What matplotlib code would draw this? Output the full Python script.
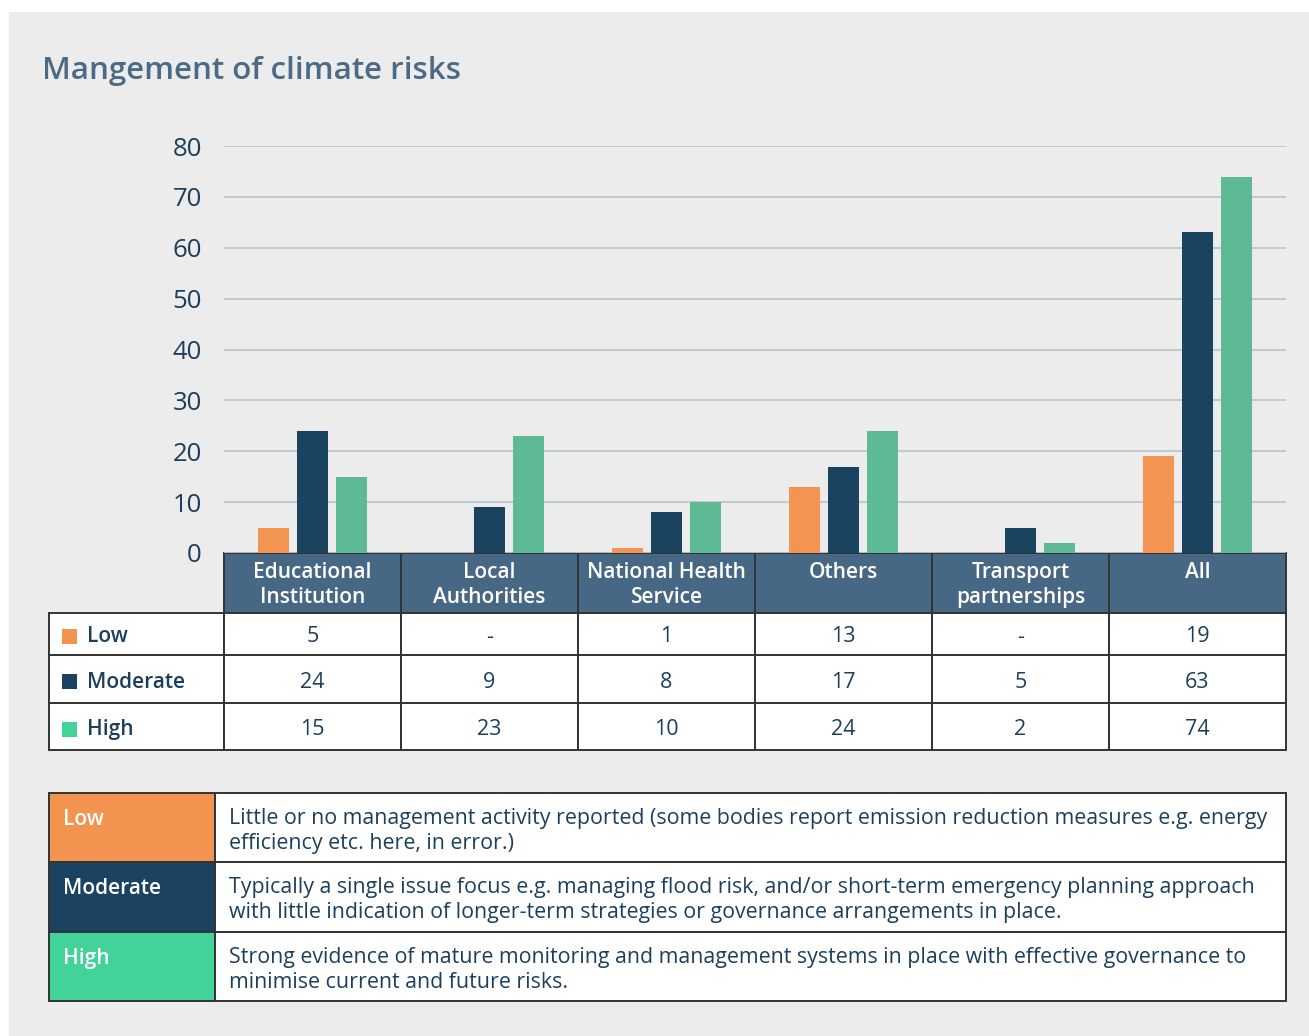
import numpy as np
import matplotlib
matplotlib.use("Agg")
import matplotlib.pyplot as plt
from matplotlib.patches import Rectangle

plt.rcParams['font.family'] = ['Open Sans', 'Noto Sans', 'DejaVu Sans']

# ---- data -------------------------------------------------------------
categories = ["Educational\nInstitution", "Local\nAuthorities", "National Health\nService",
              "Others", "Transport\npartnerships", "All"]
series_names = ["Low", "Moderate", "High"]
low = [5, np.nan, 1, 13, np.nan, 19]
moderate = [24, 9, 8, 17, 5, 63]
high = [15, 23, 10, 24, 2, 74]
y_ticks = [0, 10, 20, 30, 40, 50, 60, 70, 80]
descriptions = [
    "Little or no management activity reported (some bodies report emission reduction measures e.g. energy\nefficiency etc. here, in error.)",
    "Typically a single issue focus e.g. managing flood risk, and/or short-term emergency planning approach\nwith little indication of longer-term strategies or governance arrangements in place.",
    "Strong evidence of mature monitoring and management systems in place with effective governance to\nminimise current and future risks.",
]

# ---- styling ----------------------------------------------------------
bar_colors = ["#f39452", "#19435f", "#5eba94"]
key_colors = ["#f2944f", "#1b4361", "#41d39a"]
navy = "#1d3f5c"
header_fill = "#476885"
panel = "#ececec"
border = "#333333"

W, H = 1309, 1036
fig = plt.figure(figsize=(W / 100, H / 100), dpi=100, facecolor="white")

# overlay in pixel units (y downward) for panel, title and tables
ov = fig.add_axes([0, 0, 1, 1], zorder=0)
ov.set_xlim(0, W)
ov.set_ylim(H, 0)
ov.axis("off")
ov.add_patch(Rectangle((9, 12), W - 9, H - 12, facecolor=panel, edgecolor="none"))
ov.text(42, 71, "Mangement of climate risks", fontsize=22.5, color="#4a6a85",
        fontweight="semibold", va="center", ha="left")

# ---- bar chart --------------------------------------------------------
x0, x1, y0, y1 = 224, 1286, 553, 146
ax = fig.add_axes([x0 / W, 1 - y0 / H, (x1 - x0) / W, (y0 - y1) / H], zorder=2)
ax.set_facecolor("none")
n = len(categories)
x = np.arange(n)
bw, step = 0.175, 0.22
for i, vals in enumerate([low, moderate, high]):
    v = np.nan_to_num(np.array(vals, dtype=float))
    ax.bar(x + (i - 1) * step, v, width=bw, color=bar_colors[i], zorder=3)
ax.set_xlim(-0.5, n - 0.5)
ax.set_ylim(0, 80)
ax.set_yticks(y_ticks)
ax.set_yticklabels([str(t) for t in y_ticks], fontsize=18.5, color=navy)
ax.tick_params(axis="y", length=0, pad=16)
ax.tick_params(axis="x", bottom=False, labelbottom=False)
for s in ax.spines.values():
    s.set_visible(False)
ax.yaxis.grid(True, color="#bcc7d1", linewidth=1.3, zorder=0)
ax.set_axisbelow(True)

# ---- data table -------------------------------------------------------
col_w = (x1 - x0) / n
lab_x0 = 49
hdr_top, hdr_bot = 553, 613
row_edges = [613, 655, 703, 750]
lw = 1.4

for j, cat in enumerate(categories):
    cx = x0 + j * col_w
    ov.add_patch(Rectangle((cx, hdr_top), col_w, hdr_bot - hdr_top, facecolor=header_fill,
                           edgecolor=border, linewidth=lw, zorder=3))
    ov.text(cx + col_w / 2, hdr_top + 9, cat, color="white", fontsize=15,
            fontweight="semibold", ha="center", va="top", linespacing=1.25, zorder=4)

for r, (name, vals) in enumerate(zip(series_names, [low, moderate, high])):
    top, bot = row_edges[r], row_edges[r + 1]
    cy = (top + bot) / 2 + 3
    ov.add_patch(Rectangle((lab_x0, top), x0 - lab_x0, bot - top, facecolor="white",
                           edgecolor=border, linewidth=lw, zorder=3))
    ov.add_patch(Rectangle((62, cy - 8), 15, 15, facecolor=key_colors[r],
                           edgecolor="none", zorder=4))
    ov.text(87, cy, name, color=navy, fontsize=15, fontweight="semibold",
            ha="left", va="center", zorder=4)
    for j, v in enumerate(vals):
        cx = x0 + j * col_w
        ov.add_patch(Rectangle((cx, top), col_w, bot - top, facecolor="white",
                               edgecolor=border, linewidth=lw, zorder=3))
        txt = "-" if np.isnan(v) else str(int(v))
        ov.text(cx + col_w / 2, cy, txt, color=navy, fontsize=15.5,
                ha="center", va="center", zorder=4)

# ---- key table --------------------------------------------------------
key_edges = [793, 862, 932, 1001]
kx_split = 215
for r, (name, desc) in enumerate(zip(series_names, descriptions)):
    top, bot = key_edges[r], key_edges[r + 1]
    ov.add_patch(Rectangle((lab_x0, top), kx_split - lab_x0, bot - top,
                           facecolor=key_colors[r], edgecolor=border, linewidth=lw, zorder=3))
    ov.add_patch(Rectangle((kx_split, top), x1 - kx_split, bot - top,
                           facecolor="white", edgecolor=border, linewidth=lw, zorder=3))
    ov.text(63, top + 16, name, color="white", fontsize=15, fontweight="semibold",
            ha="left", va="top", zorder=4)
    ov.text(229, top + 15, desc, color=navy, fontsize=15.4,
            ha="left", va="top", linespacing=1.22, zorder=4)

fig.savefig("out.png", dpi=100, facecolor="white")
